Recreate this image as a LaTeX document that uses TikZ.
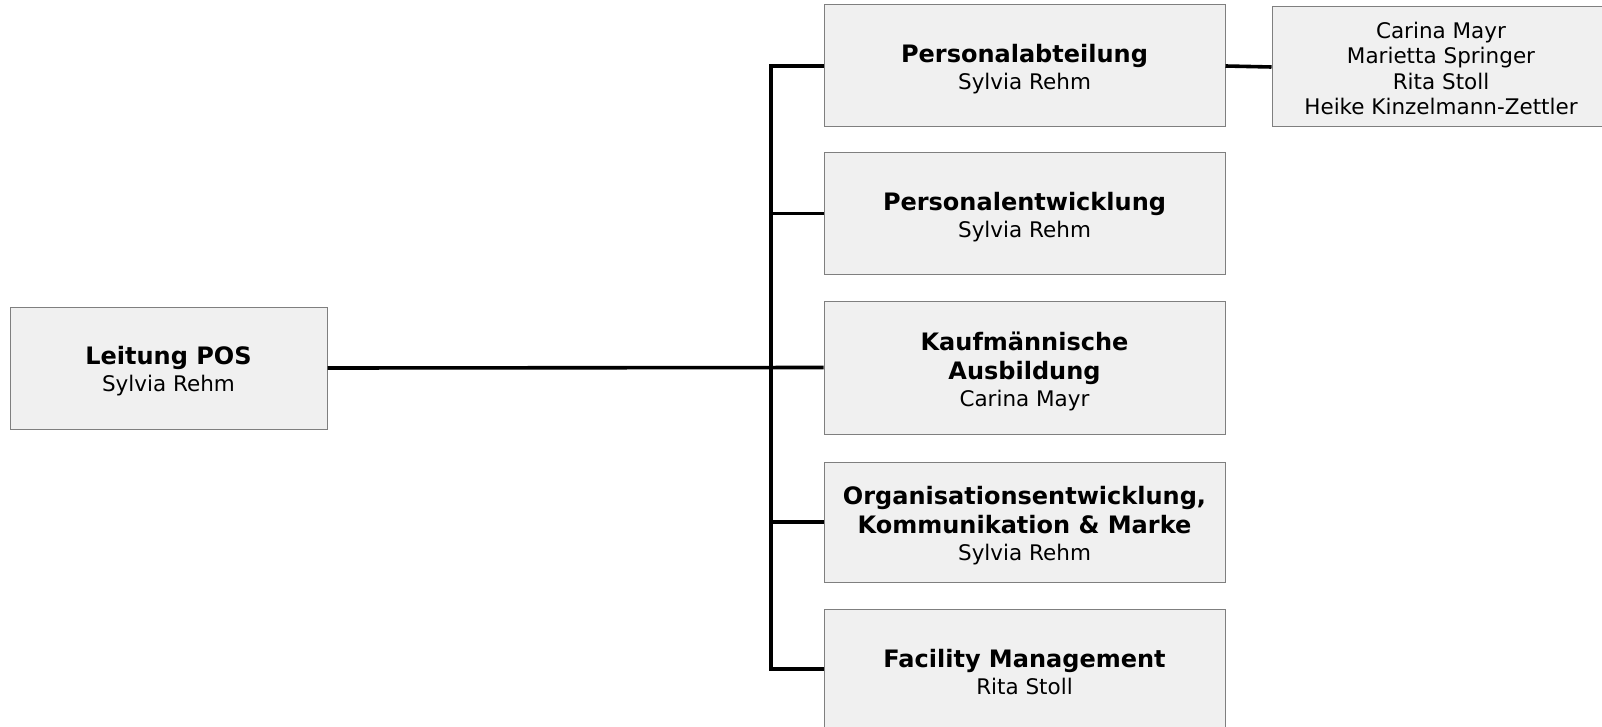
\documentclass[tikz,border=0pt]{standalone}
\usepackage{fontspec}
\setmainfont{DejaVu Sans}
\definecolor{boxfill}{HTML}{F0F0F0}
\definecolor{boxline}{HTML}{7F7F7F}
\newcommand{\hd}[1]{{\fontsize{24}{28}\selectfont\bfseries #1}}
\begin{document}
\begin{tikzpicture}[x=1pt,y=-1pt,
  unit/.style={draw=boxline, line width=1pt, fill=boxfill, inner sep=0pt, minimum width=401pt},
  txt/.style={inner sep=0pt, align=center, font=\fontsize{21.5}{25.5}\selectfont},
  conn/.style={line width=3.6pt, black}]
\useasboundingbox (0,0) rectangle (1602,727);
\node[unit, minimum width=317pt, minimum height=122pt] (lead) at (168.5,368) {};
\node[unit, minimum height=122pt] (pa) at (1024.5,66) {};
\node[unit, minimum height=121pt] (pe) at (1024.5,213.5) {};
\node[unit, minimum height=133pt] (ka) at (1024.5,367.5) {};
\node[unit, minimum height=120pt] (oe) at (1024.5,522) {};
\node[unit, minimum height=120pt] (fm) at (1024.5,669) {};
\node[unit, minimum width=338pt, minimum height=120pt] (team) at (1441,67) {};
\node[txt] (lead-t) at ([yshift=-3.5pt]lead.center) {\hd{Leitung POS}\\[1.5pt]Sylvia Rehm};
\node[txt] (pa-t) at ([yshift=-3.5pt]pa.center) {\hd{Personalabteilung}\\[1.5pt]Sylvia Rehm};
\node[txt] (pe-t) at ([yshift=-3.5pt]pe.center) {\hd{Personalentwicklung}\\[1.5pt]Sylvia Rehm};
\node[txt] (ka-t) at ([yshift=-4pt]ka.center) {\hd{Kaufmännische}\\[3.5pt]\hd{Ausbildung}\\[1.5pt]Carina Mayr};
\node[txt] (oe-t) at ([yshift=-4pt]oe.center) {\hd{Organisationsentwicklung,}\\[3.5pt]\hd{Kommunikation \& Marke}\\[1.5pt]Sylvia Rehm};
\node[txt] (fm-t) at ([yshift=-3.5pt]fm.center) {\hd{Facility Management}\\[1.5pt]Rita Stoll};
\node[txt] (team-t) at ([yshift=-1.5pt]team.center) {Carina Mayr\\Marietta Springer\\Rita Stoll\\Heike Kinzelmann-Zettler};
\coordinate (tx) at (771,0);
\draw[conn] (pa.west) -| (tx |- fm.west) -- (fm.west);
\draw[conn] (pe.west) -- (tx |- pe.west);
\draw[conn] (oe.west) -- (tx |- oe.west);
\draw[conn] (lead.east) -- (ka.west);
\draw[conn] (pa.east) -- (team.west);
\end{tikzpicture}
\end{document}
